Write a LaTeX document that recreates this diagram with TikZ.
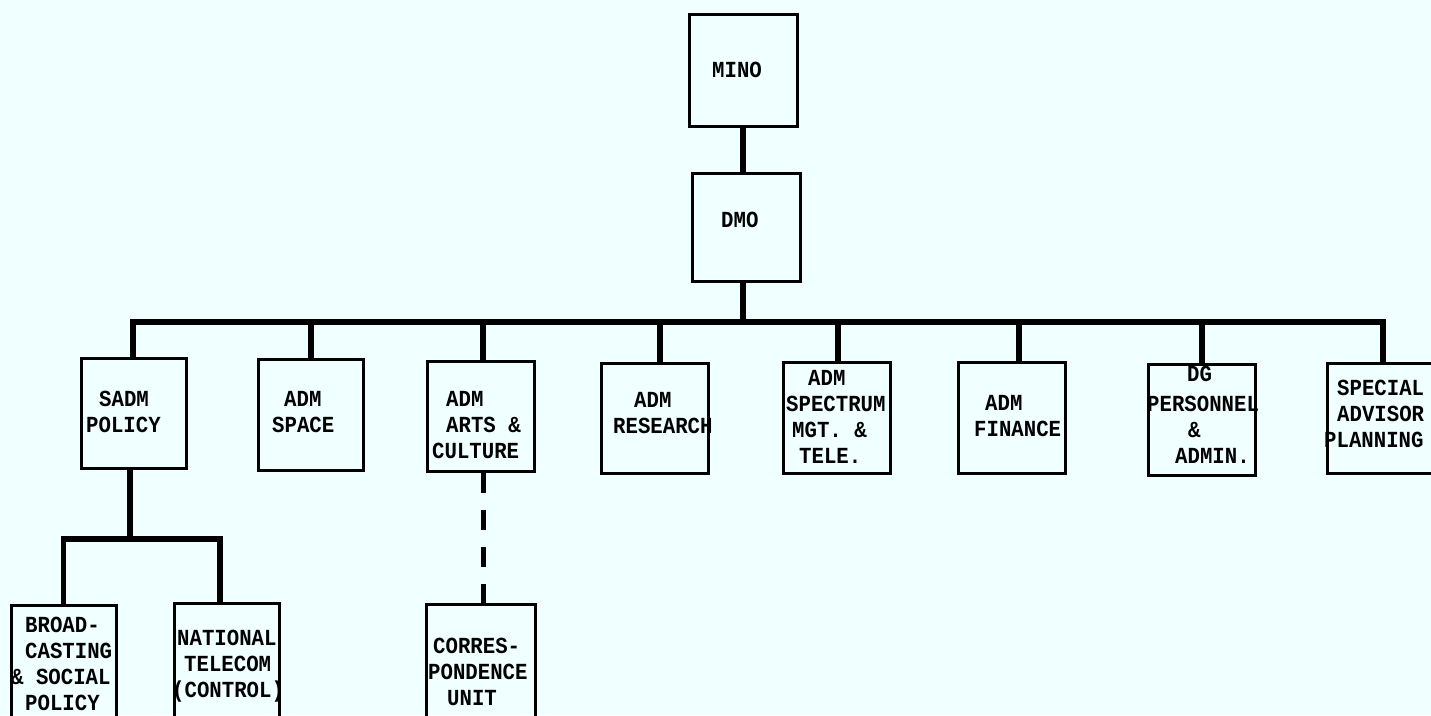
\documentclass[tikz,border=0pt]{standalone}
\usepackage{fontspec}
\newfontfamily\typewriter{Liberation Mono}[FakeStretch=0.9]
\definecolor{paper}{HTML}{F0FFFF}
\tikzset{
  box/.style={draw=black, line width=3pt, inner sep=0pt},
  % multi-line labels: the base anchor sits on the baseline of the last line
  lbl/.style={font=\typewriter\bfseries\fontsize{23}{26}\selectfont,
              align=left, anchor=base west, inner sep=0pt},
  conn/.style={draw=black, line width=5.5pt, line cap=rect, line join=miter},
  dashconn/.style={draw=black, line width=5pt, dash pattern=on 20pt off 17pt}
}
\begin{document}
\begin{tikzpicture}[x=1pt,y=-1pt]
\fill[paper] (0,0) rectangle (1431,715);
\useasboundingbox (0,0) rectangle (1431,715);

% top of the hierarchy
\node[box, minimum width=108pt, minimum height=112pt] (mino) at (743,70) {};
\node[box, minimum width=108pt, minimum height=108pt] (dmo) at (746.5,227.5) {};

% assistant deputy ministers and advisors
\node[box, minimum width=105pt, minimum height=110pt] (sadm) at (134,413.5) {};
\node[box, minimum width=105pt, minimum height=111pt] (space) at (311,415) {};
\node[box, minimum width=107pt, minimum height=110pt] (arts) at (481,416.5) {};
\node[box, minimum width=107pt, minimum height=110pt] (research) at (655,418.5) {};
\node[box, minimum width=107pt, minimum height=111pt] (spectrum) at (837,418) {};
\node[box, minimum width=107pt, minimum height=111pt] (finance) at (1012,418) {};
\node[box, minimum width=107pt, minimum height=111pt] (dg) at (1202,420) {};
\node[box, minimum width=112pt, minimum height=110pt] (special) at (1383,418.5) {};

% units below
\node[box, minimum width=105pt, minimum height=120pt] (broad) at (63.5,665) {};
\node[box, minimum width=105pt, minimum height=122pt] (national) at (226.5,664) {};
\node[box, minimum width=109pt, minimum height=120pt] (corres) at (480.5,664) {};

% labels
\node[lbl] (minoT) at (712,77) {MINO};
\node[lbl] (dmoT) at (721,227) {DMO};
\node[lbl] (sadmT) at (86,432) {\hspace*{13pt}SADM\\POLICY};
\node[lbl] (spaceT) at (272,432) {\hspace*{12pt}ADM\\SPACE};
\node[lbl] (artsT) at (432,458) {\hspace*{14pt}ADM\\\hspace*{14pt}ARTS~\&\\CULTURE};
\node[lbl] (researchT) at (613,433) {\hspace*{21pt}ADM\\RESEARCH};
\node[lbl] (spectrumT) at (786,463) {\hspace*{22pt}ADM\\SPECTRUM\\\hspace*{6pt}MGT.~\&\\\hspace*{13pt}TELE.};
\node[lbl] (financeT) at (974,436) {\hspace*{11pt}ADM\\FINANCE};
\node[lbl] (dgT) at (1147,463) {\hspace*{40pt}DG\\[4pt]PERSONNEL\\\hspace*{41pt}\&\\\hspace*{28pt}ADMIN.};
\node[lbl] (specialT) at (1324,447) {\hspace*{13pt}SPECIAL\\\hspace*{13pt}ADVISOR\\PLANNING};
\node[lbl] (broadT) at (11,710) {\hspace*{14pt}BROAD-\\\hspace*{14pt}CASTING\\\&~SOCIAL\\\hspace*{14pt}POLICY};
\node[lbl] (nationalT) at (172,697) {\hspace*{5pt}NATIONAL\\\hspace*{12pt}TELECOM\\(CONTROL)};
\node[lbl] (corresT) at (428,705) {\hspace*{5pt}CORRES-\\PONDENCE\\\hspace*{19pt}UNIT};

% connectors
\coordinate (bar) at (743,322);
\coordinate (sub) at (130,539);
\draw[conn] (mino.south) -- (mino.south |- dmo.north);
\draw[conn] (dmo.south -| bar) -- (bar);
\draw[conn] ([xshift=-1pt]sadm.north) -- ([xshift=-1pt]sadm.north |- bar)
            -- (special.north |- bar) -- (special.north);
\draw[conn] (space.north) -- (space.north |- bar);
\draw[conn] ([xshift=2pt]arts.north) -- ([xshift=2pt]arts.north |- bar);
\draw[conn] ([xshift=5pt]research.north) -- ([xshift=5pt]research.north |- bar);
\draw[conn] ([xshift=1pt]spectrum.north) -- ([xshift=1pt]spectrum.north |- bar);
\draw[conn] ([xshift=7pt]finance.north) -- ([xshift=7pt]finance.north |- bar);
\draw[conn] (dg.north) -- (dg.north |- bar);

\draw[conn] ([xshift=-4pt]sadm.south) -- (sub);
\draw[conn] (broad.north) -- (broad.north |- sub)
            -- ([xshift=-6.5pt]national.north |- sub) -- ([xshift=-6.5pt]national.north);
\draw[dashconn] ([xshift=2pt]arts.south) -- ([xshift=2pt]arts.south |- corres.north);
\end{tikzpicture}
\end{document}
